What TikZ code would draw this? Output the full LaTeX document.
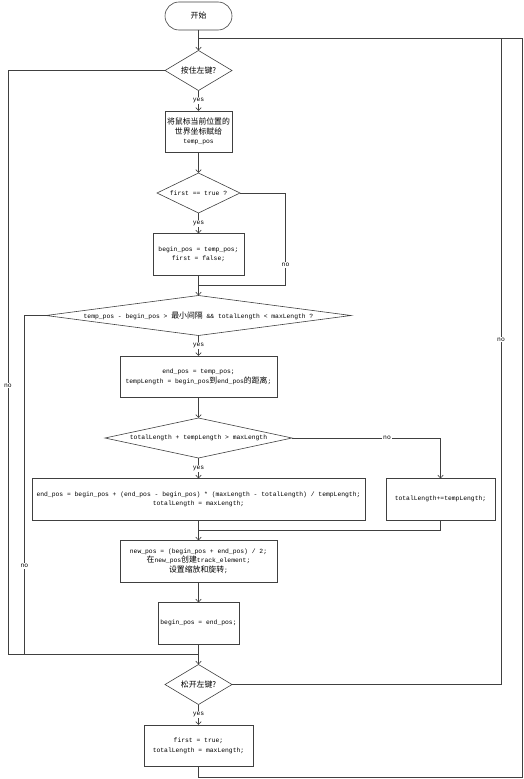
\documentclass[tikz,border=0pt]{standalone}
\usepackage{fontspec}
\setmainfont{Liberation Mono}
\newfontfamily\cjk[Scale=1.24]{Noto Sans CJK SC}
\usetikzlibrary{positioning,shapes.geometric,arrows.meta,calc}

\begin{document}
\begin{tikzpicture}[
  x=1pt, y=1pt,
  node distance=20.5pt and 21pt,
  font=\fontsize{6.35}{9.5}\selectfont,
  line/.style={draw=black!75, line width=0.6pt},
  arrow/.style={line, -{Straight Barb[length=3pt,width=5.5pt]}},
  term/.style={draw=black!75, line width=0.6pt, outer sep=0pt, rounded corners=14pt, minimum width=67pt, minimum height=28pt, inner sep=0pt},
  proc/.style={draw=black!75, line width=0.6pt, outer sep=0pt, minimum height=41.5pt, inner sep=2pt, align=center},
  decision/.style={diamond, draw=black!75, line width=0.6pt, outer sep=0pt, inner sep=0pt, minimum height=40pt},
  tag/.style={fill=white, inner sep=1pt}
]
\useasboundingbox (0,0) rectangle (524,-779);

% Main column
\node[term] (start) at (198.5,-16) {\cjk 开始};
\node[decision, minimum width=67pt, below=of start, label=center:{\cjk 按住左键?}] (d1) {};
\node[proc, minimum width=67pt, below=of d1] (b2) {{\cjk 将鼠标当前位置的} \\ {\cjk 世界坐标赋给} \\ temp\_pos};
\node[decision, minimum width=83pt, below=of b2, label=center:{first == true ?}] (d2) {};
\node[proc, minimum width=91pt, below=of d2] (b3) {begin\_pos = temp\_pos; \\ first = false;};
\node[decision, minimum width=305pt, below=of b3,
  label=center:{temp\_pos - begin\_pos > {\cjk 最小间隔} \&\& totalLength < maxLength ?}] (d3) {};
\node[proc, minimum width=157pt, below=of d3] (b4) {end\_pos = temp\_pos; \\ tempLength = begin\_pos{\cjk 到}end\_pos{\cjk 的距离};};
\node[decision, minimum width=187pt, below=of b4, label=center:{totalLength + tempLength > maxLength}] (d4) {};
\node[proc, minimum width=333pt, below=of d4] (b5) {end\_pos = begin\_pos + (end\_pos - begin\_pos) * (maxLength - totalLength) / tempLength; \\ totalLength = maxLength;};
\node[proc, minimum width=109pt, right=of b5] (b6) {totalLength+=tempLength;};
\node[proc, minimum width=157pt, below=of b5] (b7) {new\_pos = (begin\_pos + end\_pos) / 2; \\ {\cjk 在}new\_pos{\cjk 创建}track\_element; \\ {\cjk 设置缩放和旋转};};
\node[proc, minimum width=81pt, below=of b7] (b8) {begin\_pos = end\_pos;};
\node[decision, minimum width=67pt, below=of b8, label=center:{\cjk 松开左键?}] (d5) {};
\node[proc, minimum width=109pt, below=of d5] (b9) {first = true; \\ totalLength = maxLength;};

% Junctions
\coordinate (jtop) at ($(start.south)!0.4!(d1.north)$);
\coordinate (jb3) at ($(b3.south)!0.5!(d3.north)$);
\coordinate (jb7) at ($(b5.south)!0.5!(b7.north)$);
\coordinate (jbot) at ($(b8.south)!0.5!(d5.north)$);

% Arrows
\draw[arrow] (start) -- (d1);
\draw[arrow] (d1) -- node[tag]{yes} (b2);
\draw[arrow] (b2) -- (d2);
\draw[arrow] (d2) -- node[tag]{yes} (b3);
\draw[arrow] (b3) -- (d3);
\draw[arrow] (d3) -- node[tag]{yes} (b4);
\draw[arrow] (b4) -- (d4);
\draw[arrow] (d4) -- node[tag]{yes} (b5);
\draw[arrow] (b5) -- (b7);
\draw[arrow] (b7) -- (b8);
\draw[arrow] (b8) -- (d5);
\draw[arrow] (d5) -- node[tag]{yes} (b9);
\draw[arrow] (d4.east) -| node[tag, pos=0.32]{no} (b6.north);

% Loops
\draw[line] (d1.west) -- ++(-157,0) |- node[tag, pos=0.27]{no} (jbot);
\draw[line] (d2.east) -- ++(45.5,0) |- node[tag, pos=0.39]{no} (jb3);
\draw[line] (d3.west) -- ++(-21.5,0) |- node[tag, pos=0.37]{no} (jbot);
\draw[line] (b6.south) |- (jb7);
\draw[line] (d5.east) -- ++(269,0) |- node[tag, pos=0.267]{no} (jtop);
\draw[line] (b9.south) -- ++(0,-10.5) -- ++(324,0) |- (jtop);

\end{tikzpicture}
\end{document}
